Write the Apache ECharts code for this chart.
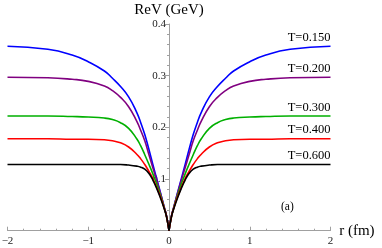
<!DOCTYPE html>
<html>
<head>
<meta charset="utf-8">
<script src="https://cdn.jsdelivr.net/npm/echarts@6/dist/echarts.min.js"></script>
<style>html,body{margin:0;padding:0;background:#fff}#c{width:382px;height:248px}</style>
</head>
<body>
<div id="c"></div>
<script>
// r values (fm), positive half; the curves are symmetric in r
var rPos = [0, 0.03, 0.06, 0.1, 0.15, 0.2, 0.25, 0.3, 0.35, 0.4, 0.5, 0.6, 0.7, 0.8, 1.0, 1.2, 1.5, 2.0];
var labels = ['T=0.150', 'T=0.200', 'T=0.300', 'T=0.400', 'T=0.600'];
var v150 = [0, 0.028, 0.046, 0.070, 0.099, 0.128, 0.158, 0.186, 0.209, 0.229, 0.259, 0.279, 0.295, 0.309, 0.327, 0.340, 0.351, 0.357];
var v200 = [0, 0.028, 0.046, 0.069, 0.096, 0.122, 0.148, 0.174, 0.194, 0.212, 0.240, 0.258, 0.271, 0.280, 0.289, 0.293, 0.296, 0.297];
var v300 = [0, 0.027, 0.045, 0.066, 0.089, 0.110, 0.129, 0.147, 0.164, 0.178, 0.198, 0.209, 0.215, 0.218, 0.220, 0.221, 0.222, 0.222];
var v400 = [0, 0.027, 0.044, 0.063, 0.083, 0.101, 0.115, 0.128, 0.139, 0.148, 0.162, 0.170, 0.174, 0.176, 0.177, 0.177, 0.178, 0.178];
var v600 = [0, 0.027, 0.043, 0.061, 0.081, 0.098, 0.111, 0.119, 0.123, 0.125, 0.127, 0.128, 0.128, 0.128, 0.128, 0.128, 0.128, 0.128];
var colors = ['#0000ff', '#800080', '#00b000', '#ff0000', '#000000'];
var values = [v150, v200, v300, v400, v600];

function half(v, sign) {
  var d = [];
  for (var j = 0; j < rPos.length; j++) d.push([sign * rPos[j], v[j]]);
  if (sign < 0) d.reverse();
  return d;
}
var serif = '"Liberation Serif", "DejaVu Serif", serif';
var series = [];
values.forEach(function (v, k) {
  var base = {
    type: 'line', smooth: 0.5, showSymbol: false,
    lineStyle: { color: colors[k], width: 1.6 }, itemStyle: { color: colors[k] },
    silent: true, animation: false
  };
  series.push(Object.assign({}, base, { data: half(v, -1) }));
  series.push(Object.assign({}, base, {
    data: half(v, 1),
    markPoint: {
      symbol: 'circle', symbolSize: 0, silent: true, animation: false,
      data: [{ coord: [rPos[rPos.length - 1], v[v.length - 1]] }],
      label: { show: true, formatter: labels[k], position: [0, -2], align: 'right', verticalAlign: 'bottom',
        color: '#000', fontFamily: serif, fontSize: 12.5 }
    }
  }));
});

var chart = echarts.init(document.getElementById('c'), null, { renderer: 'canvas' });
chart.setOption({
  animation: false,
  backgroundColor: '#fff',
  grid: { left: 7.5, right: 51.5, top: 24, bottom: 17.3, containLabel: false, outerBoundsMode: 'none' },
  xAxis: {
    type: 'value', min: -2, max: 2, interval: 1,
    name: 'r (fm)', nameLocation: 'end', nameGap: 7,
    nameTextStyle: { fontFamily: serif, fontSize: 15, color: '#000' },
    axisLine: { onZero: true, lineStyle: { color: '#a0a0a0', width: 1 } },
    axisTick: { show: true, inside: true, length: 4, lineStyle: { color: '#a0a0a0' } },
    minorTick: { show: true, splitNumber: 5, length: 2, lineStyle: { color: '#a0a0a0' } },
    splitLine: { show: false },
    axisLabel: { fontFamily: serif, fontSize: 11, color: '#222', margin: 5,
      formatter: function (v) { return String(v).replace('-', '\u2212'); } }
  },
  yAxis: {
    type: 'value', min: 0, max: 0.4, interval: 0.1,
    offset: -161.5,
    name: 'ReV (GeV)', nameLocation: 'end', nameGap: 6,
    nameTextStyle: { fontFamily: serif, fontSize: 15, color: '#000' },
    axisLine: { onZero: false, lineStyle: { color: '#a0a0a0', width: 1 } },
    axisTick: { show: true, inside: false, length: 4, lineStyle: { color: '#a0a0a0' } },
    minorTick: { show: true, splitNumber: 5, length: 2, lineStyle: { color: '#a0a0a0' } },
    splitLine: { show: false },
    axisLabel: { fontFamily: serif, fontSize: 11, color: '#222', margin: 3,
      formatter: function (v) { return v === 0 ? '' : v.toFixed(1); } }
  },
  graphic: [{ type: 'text', left: 281, top: 201, style: { text: '(a)', font: '11.5px ' + serif, fill: '#000' } }],
  series: series
});
</script>
</body>
</html>
